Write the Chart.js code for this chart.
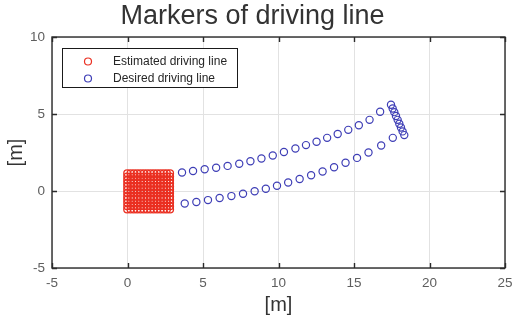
<!DOCTYPE html>
<html><head><meta charset="utf-8">
<script src="https://cdn.jsdelivr.net/npm/chart.js@4.4.1/dist/chart.umd.min.js"></script>
<style>html,body{margin:0;padding:0;background:#fff}#wrap{width:513px;height:326px}</style>
</head><body><div id="wrap"><canvas id="c" width="513" height="326"></canvas></div>
<script>
const chartTitle = 'Markers of driving line';
const seriesNames = ['Estimated driving line', 'Desired driving line'];
const xTicks = [-5, 0, 5, 10, 15, 20, 25];
const yTicks = [-5, 0, 5, 10];

// estimated markers form a dense grid: column x positions and row y positions
const estimatedColsX = [-0.02, 0.2, 0.42, 0.64, 0.86, 1.08, 1.3, 1.52, 1.74, 1.96, 2.18, 2.4, 2.61, 2.82];
const estimatedRowsY = [1.15, 0.94, 0.72, 0.51, 0.3, 0.08, -0.13, -0.35, -0.56, -0.77, -0.99, -1.2];

const desiredUpperX = [3.61, 4.34, 5.11, 5.87, 6.63, 7.4, 8.14, 8.87, 9.62, 10.36, 11.12, 11.82, 12.52, 13.22, 13.92, 14.62, 15.32, 16.03, 16.73];
const desiredUpperY = [1.2, 1.3, 1.41, 1.51, 1.63, 1.77, 1.93, 2.11, 2.31, 2.53, 2.76, 2.98, 3.2, 3.45, 3.7, 3.97, 4.27, 4.62, 5.15];
const desiredTurnX = [17.45, 17.56, 17.67, 17.78, 17.89, 18.0, 18.11, 18.22, 18.33];
const desiredTurnY = [5.6, 5.36, 5.12, 4.87, 4.62, 4.37, 4.12, 3.87, 3.63];
const desiredLowerX = [3.79, 4.56, 5.33, 6.1, 6.88, 7.65, 8.42, 9.16, 9.9, 10.64, 11.4, 12.16, 12.92, 13.68, 14.44, 15.2, 15.96, 16.8, 17.57];
const desiredLowerY = [-0.81, -0.71, -0.59, -0.45, -0.33, -0.18, -0.02, 0.15, 0.34, 0.55, 0.78, 1.02, 1.27, 1.54, 1.83, 2.15, 2.5, 2.95, 3.45];

const RED = 'rgb(234,48,34)';
const BLUE = 'rgb(62,62,182)';
const FONT = '"Liberation Sans", Arial, Helvetica, sans-serif';

const estimatedPts = [];
estimatedRowsY.forEach(y => estimatedColsX.forEach(x => estimatedPts.push({x, y})));
const desiredPts = [];
const addPts = (xs, ys) => xs.forEach((x, i) => desiredPts.push({x, y: ys[i]}));
addPts(desiredUpperX, desiredUpperY);
addPts(desiredTurnX, desiredTurnY);
addPts(desiredLowerX, desiredLowerY);

function zeroPad(s) { s.paddingLeft = 0; s.paddingRight = 0; s.paddingTop = 0; s.paddingBottom = 0; }

const boxPlugin = {
  id: 'boxPlugin',
  afterDraw(chart) {
    const {ctx, chartArea: a, scales: {x, y}} = chart;
    ctx.save();
    ctx.strokeStyle = '#2b2b2b';
    ctx.lineWidth = 1.4;
    ctx.strokeRect(a.left, a.top, a.right - a.left, a.bottom - a.top);
    const tl = 5;
    ctx.beginPath();
    xTicks.forEach(v => {
      const px = Math.round(x.getPixelForValue(v)) + 0.5;
      ctx.moveTo(px, a.bottom); ctx.lineTo(px, a.bottom - tl);
      ctx.moveTo(px, a.top); ctx.lineTo(px, a.top + tl);
    });
    yTicks.forEach(v => {
      const py = Math.round(y.getPixelForValue(v)) + 0.5;
      ctx.moveTo(a.left, py); ctx.lineTo(a.left + tl, py);
      ctx.moveTo(a.right, py); ctx.lineTo(a.right - tl, py);
    });
    ctx.stroke();
    // legend
    const lx = 62.5, ly = 48.5, lw = 175, lh = 39;
    ctx.fillStyle = '#fff';
    ctx.fillRect(lx, ly, lw, lh);
    ctx.lineWidth = 1;
    ctx.strokeStyle = '#1a1a1a';
    ctx.strokeRect(lx, ly, lw, lh);
    const rows = [[seriesNames[0], RED, 61.5], [seriesNames[1], BLUE, 78.5]];
    ctx.font = '12px ' + FONT;
    ctx.textBaseline = 'middle';
    ctx.textAlign = 'left';
    rows.forEach(([t, c, yy]) => {
      ctx.beginPath();
      ctx.strokeStyle = c;
      ctx.lineWidth = 1.2;
      ctx.arc(88, yy, 3.5, 0, Math.PI * 2);
      ctx.stroke();
      ctx.fillStyle = '#262626';
      ctx.fillText(t, 113, yy);
    });
    ctx.restore();
  }
};

new Chart(document.getElementById('c'), {
  type: 'scatter',
  data: {
    datasets: [
      {label: seriesNames[0], data: estimatedPts, borderColor: RED, backgroundColor: 'rgba(0,0,0,0)',
       pointRadius: 3.4, borderWidth: 1.3, pointStyle: 'circle'},
      {label: seriesNames[1], data: desiredPts, borderColor: BLUE, backgroundColor: 'rgba(0,0,0,0)',
       pointRadius: 3.6, borderWidth: 1.2, pointStyle: 'circle'}
    ]
  },
  options: {
    responsive: false,
    animation: false,
    devicePixelRatio: 1,
    layout: {padding: {top: 0, left: 0, right: 8, bottom: 0}},
    plugins: {
      legend: {display: false},
      tooltip: {enabled: false},
      title: {display: true, text: chartTitle, color: '#333333',
        font: {family: FONT, size: 27, weight: 'normal'}, padding: {top: 0, bottom: 4.6}}
    },
    scales: {
      x: {
        type: 'linear', min: -5, max: 25,
        afterBuildTicks: s => { s.ticks = xTicks.map(v => ({value: v})); },
        afterFit: s => { s.height = 58; zeroPad(s); },
        ticks: {color: '#5e5e5e', font: {family: FONT, size: 13.5}, padding: 7},
        grid: {color: '#e2e2e2', lineWidth: 1, drawTicks: false},
        border: {display: false},
        title: {display: true, text: '[m]', color: '#333', font: {family: FONT, size: 20}, padding: {top: 0, bottom: 9}}
      },
      y: {
        type: 'linear', min: -5, max: 10,
        afterBuildTicks: s => { s.ticks = yTicks.map(v => ({value: v})); },
        afterFit: s => { s.width = 52; zeroPad(s); },
        ticks: {color: '#5e5e5e', font: {family: FONT, size: 13.5}, padding: 7},
        grid: {color: '#e2e2e2', lineWidth: 1, drawTicks: false},
        border: {display: false},
        title: {display: true, text: '[m]', color: '#333', font: {family: FONT, size: 20}, padding: {top: 4, bottom: 0}}
      }
    }
  },
  plugins: [boxPlugin]
});
</script></body></html>
